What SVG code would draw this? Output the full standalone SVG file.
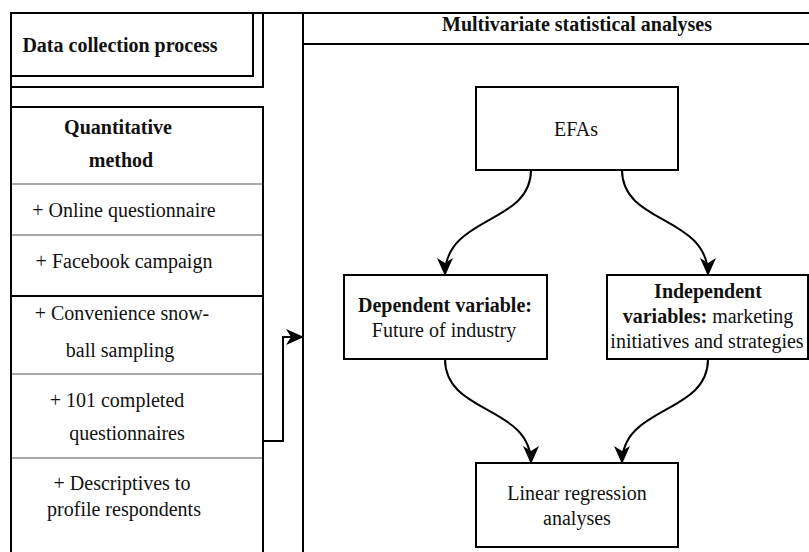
<svg xmlns="http://www.w3.org/2000/svg" width="809" height="552" viewBox="0 0 809 552">
<style>
.b{fill:none;stroke:#000;stroke-width:2}
.bx{fill:#fff;stroke:#000;stroke-width:2}
.sep{stroke:#a8a8a8;stroke-width:2}
text{font-family:'Liberation Serif','DejaVu Serif',serif;font-size:20px;fill:#111;text-anchor:middle}
.bd{font-weight:bold}
.c{fill:none;stroke:#000;stroke-width:2}
</style>
<defs>
<marker id="arr" viewBox="0 0 18 16" markerWidth="18" markerHeight="16" refX="17" refY="8" orient="auto" markerUnits="userSpaceOnUse">
<path d="M0,0 L18,8 L0,16 L5,8 Z" fill="#000"/>
</marker>
</defs>
<rect width="809" height="552" fill="#fff"/>
<g id="container">
<line class="b" x1="11" y1="13" x2="809" y2="13"/>
<line class="b" x1="11" y1="12" x2="11" y2="552"/>
</g>
<g id="data-collection">
<rect class="b" x="11" y="13" width="252" height="74"/>
<rect class="b" x="11" y="13" width="242" height="63"/>
<text class="bd" x="120" y="52">Data collection process</text>
</g>
<g id="quantitative">
<rect class="b" x="11" y="107" width="252" height="460"/>
<line class="sep" x1="12" y1="184" x2="262" y2="184"/>
<line class="sep" x1="12" y1="235" x2="262" y2="235"/>
<line class="b" x1="12" y1="296" x2="262" y2="296"/>
<line class="sep" x1="12" y1="374" x2="262" y2="374"/>
<line class="sep" x1="12" y1="458" x2="262" y2="458"/>
<text class="bd" x="118" y="134">Quantitative</text>
<text class="bd" x="121" y="167">method</text>
<text x="124" y="217">+ Online questionnaire</text>
<text x="124" y="268">+ Facebook campaign</text>
<text x="122" y="320">+ Convenience snow-</text>
<text x="120" y="357">ball sampling</text>
<text x="117" y="407">+ 101 completed</text>
<text x="127" y="440">questionnaires</text>
<text x="122" y="490">+ Descriptives to</text>
<text x="124" y="516">profile respondents</text>
</g>
<g id="multivariate">
<rect class="b" x="303" y="13" width="520" height="560"/>
<line class="b" x1="303" y1="44" x2="809" y2="44"/>
<text class="bd" x="577" y="31">Multivariate statistical analyses</text>
</g>
<g id="efas">
<rect class="bx" x="476" y="87" width="202" height="83"/>
<text x="576" y="136">EFAs</text>
</g>
<g id="dependent">
<rect class="bx" x="344" y="275" width="203" height="84"/>
<text class="bd" x="445" y="312">Dependent variable:</text>
<text x="444" y="337">Future of industry</text>
</g>
<g id="independent">
<rect class="bx" x="607" y="275" width="201" height="84"/>
<text class="bd" x="708" y="298">Independent</text>
<text x="708" y="323"><tspan font-weight="bold">variables:</tspan> marketing</text>
<text x="707" y="348">initiatives and strategies</text>
</g>
<g id="linear">
<rect class="bx" x="476" y="463" width="202" height="84"/>
<text x="577" y="500">Linear regression</text>
<text x="577" y="525">analyses</text>
</g>
<g id="connectors">
<path class="c" d="M263,441 H283 V337 H303" marker-end="url(#arr)"/>
<path class="c" d="M531,170 C531,225 445,215 445,275" marker-end="url(#arr)"/>
<path class="c" d="M622,170 C622,225 708,215 708,275" marker-end="url(#arr)"/>
<path class="c" d="M445,359 C445,415 531,405 531,463" marker-end="url(#arr)"/>
<path class="c" d="M708,359 C708,415 622,405 622,463" marker-end="url(#arr)"/>
</g>
</svg>
